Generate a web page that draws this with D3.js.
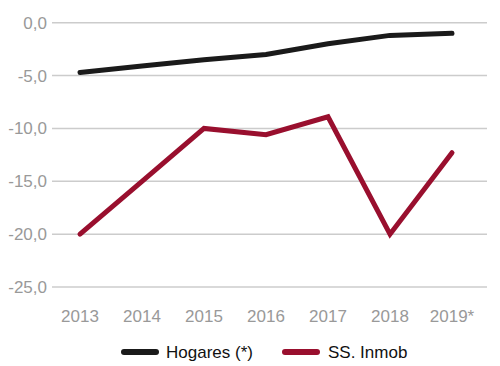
<!DOCTYPE html>
<html><head><meta charset="utf-8">
<script src="https://cdn.jsdelivr.net/npm/d3@7/dist/d3.min.js"></script>
<style>body{margin:0;background:#fff;} svg{display:block;}</style>
</head><body>
<svg id="c" width="500" height="366"></svg>
<script>
const years = ["2013","2014","2015","2016","2017","2018","2019*"];
const hogares = [-4.7, -4.1, -3.5, -3.0, -2.0, -1.2, -1.0];
const inmob = [-20.0, -15.0, -10.0, -10.6, -8.9, -20.0, -12.3];
const yTicks = [0, -5, -10, -15, -20, -25];
const seriesNames = ["Hogares (*)", "SS. Inmob"];
const colors = ["#1a1a1a", "#990f2e"];

const svg = d3.select("#c");
const x = d3.scalePoint().domain(years).range([80, 452]);
const y = d3.scaleLinear().domain([-25, 0]).range([287, 22.7]);
const fmt = v => d3.format(".1f")(v).replace(".", ",").replace("−", "-");
const FONT = "Liberation Sans, Arial, sans-serif";

const grid = svg.append("g");
yTicks.forEach(t => {
  grid.append("line").attr("x1", 52).attr("x2", 487)
    .attr("y1", y(t)).attr("y2", y(t))
    .attr("stroke", "#cccccc").attr("stroke-width", 1.5);
  grid.append("text").attr("x", 47).attr("y", y(t)).attr("dy", "0.35em")
    .attr("text-anchor", "end").attr("fill", "#999999")
    .attr("font-family", FONT).attr("font-size", 17)
    .text(fmt(t));
});
years.forEach(yr => {
  svg.append("text").attr("x", x(yr)).attr("y", 322)
    .attr("text-anchor", "middle").attr("fill", "#999999")
    .attr("font-family", FONT).attr("font-size", 17)
    .text(yr);
});

const line = d3.line().x((d, i) => x(years[i])).y(d => y(d));
[hogares, inmob].forEach((s, k) => {
  svg.append("path").datum(s).attr("d", line)
    .attr("fill", "none").attr("stroke", colors[k]).attr("stroke-width", 5)
    .attr("stroke-linecap", "round").attr("stroke-linejoin", "miter");
});

const legX = [[124, 156, 166], [285, 317, 328]];
seriesNames.forEach((n, k) => {
  svg.append("line").attr("x1", legX[k][0]).attr("x2", legX[k][1])
    .attr("y1", 352).attr("y2", 352)
    .attr("stroke", colors[k]).attr("stroke-width", 6).attr("stroke-linecap", "round");
  svg.append("text").attr("x", legX[k][2]).attr("y", 352).attr("dy", "0.35em")
    .attr("fill", "#111").attr("font-family", FONT)
    .attr("font-size", 17).text(n);
});
</script>
</body></html>
